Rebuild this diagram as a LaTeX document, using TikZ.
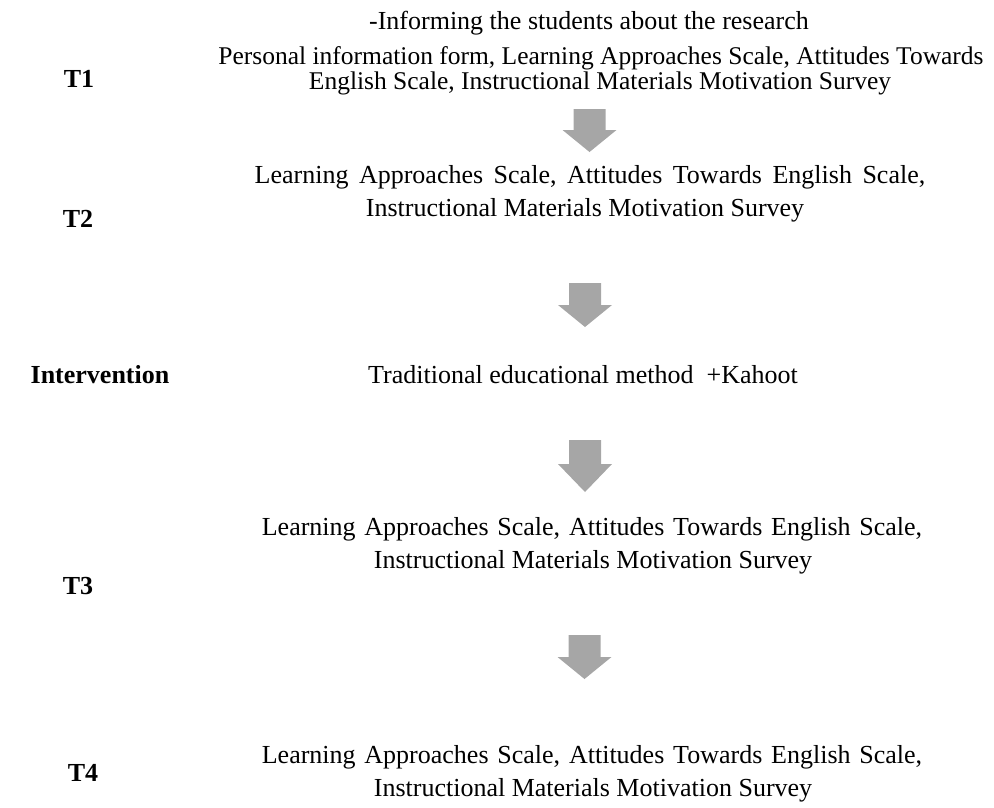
\documentclass[tikz,border=0pt]{standalone}
\usepackage{fontspec}
\setmainfont{Liberation Serif}
\begin{document}
\begin{tikzpicture}[x=1pt,y=-1pt,
  line/.style={anchor=base,inner sep=0pt,font=\fontsize{26}{31}\selectfont},
  phase/.style={anchor=base,inner sep=0pt,font=\fontsize{26}{31}\selectfont\bfseries},
  arrow shoulder/.store in=\arshoulder, arrow shoulder=22,
  arrow tip/.store in=\artip, arrow tip=44,
  downarrow/.pic={\fill[arrowgray] (-16,0) -- (16,0) -- (16,\arshoulder) -- (27,\arshoulder)
      -- (0,\artip) -- (-27,\arshoulder) -- (-16,\arshoulder) -- cycle;}]
\definecolor{arrowgray}{RGB}{166,166,166}
\useasboundingbox (0,0) rectangle (994,807);
% T1
\node[line] (t1a) at (589,29) {-Informing the students about the research};
\node[line,font=\fontsize{25.5}{30}\selectfont] (t1b) at (601,64) {Personal information form, Learning Approaches Scale, Attitudes Towards};
\node[line,font=\fontsize{25.5}{30}\selectfont] (t1c) at (600,89) {English Scale, Instructional Materials Motivation Survey};
\node[phase] (p1) at (79,87) {T1};
\pic[arrow shoulder=21, arrow tip=43] at (589.5,109) {downarrow};
% T2
\node[line] (t2a) at (590,183) {\spaceskip=10.5pt Learning Approaches Scale, Attitudes Towards English Scale,};
\node[line] (t2b) at (585,216) {Instructional Materials Motivation Survey};
\node[phase] (p2) at (78,227) {T2};
\pic at (585,283) {downarrow};
% Intervention
\node[phase] (pi) at (100,383) {Intervention};
\node[line] (ti) at (583,383) {Traditional educational method\ \ +Kahoot};
\pic[arrow shoulder=24, arrow tip=52] at (585,440) {downarrow};
% T3
\node[line] (t3a) at (592,535) {\spaceskip=8.8pt Learning Approaches Scale, Attitudes Towards English Scale,};
\node[line] (t3b) at (593,568) {Instructional Materials Motivation Survey};
\node[phase] (p3) at (78,594) {T3};
\pic at (584.5,635) {downarrow};
% T4
\node[line] (t4a) at (592,763) {\spaceskip=8.8pt Learning Approaches Scale, Attitudes Towards English Scale,};
\node[line] (t4b) at (593,796) {Instructional Materials Motivation Survey};
\node[phase] (p4) at (83,781) {T4};
\end{tikzpicture}
\end{document}
